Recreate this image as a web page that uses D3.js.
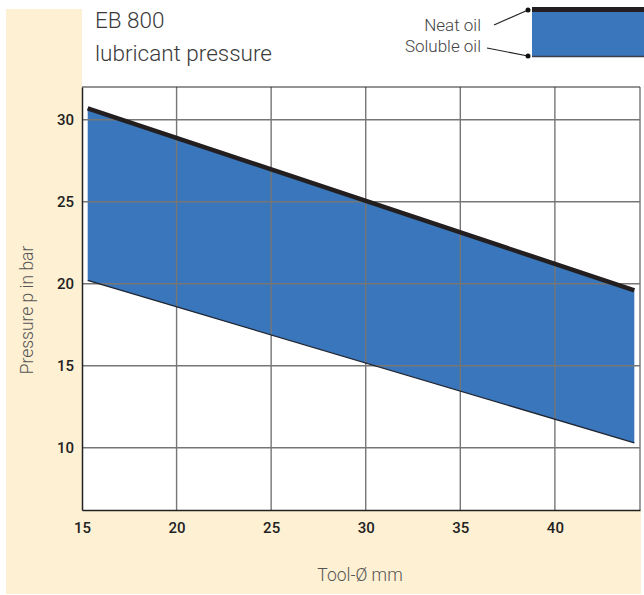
<!DOCTYPE html>
<html>
<head>
<meta charset="utf-8">
<script src="https://cdn.jsdelivr.net/npm/d3@7"></script>
<style>
  html, body { margin: 0; padding: 0; background: #fff; }
  svg { display: block; }
</style>
</head>
<body>
<svg id="chart" width="644" height="595"></svg>
<script>
// ---- data ----
const toolDiameter = [15.3, 44.2];          // Tool-Ø mm
const neatOil = [30.7, 19.6];               // bar (upper bound)
const solubleOil = [20.2, 10.3];            // bar (lower bound)
const xTicks = [15, 20, 25, 30, 35, 40];
const yTicks = [10, 15, 20, 25, 30];
const titleLines = ["EB 800", "lubricant pressure"];
const legendLabels = ["Neat oil", "Soluble oil"];

const svg = d3.select("#chart");
const plot = { left: 82, right: 640, top: 87, bottom: 510 };

const x = d3.scaleLinear().domain([15, 44.5]).range([plot.left, plot.right]);
const y = d3.scaleLinear().domain([6.2, 32]).range([plot.bottom, plot.top]);

const beige = "#fef0d3";
const font = "Roboto, 'Liberation Sans', sans-serif";
// beige L-shaped panel
svg.append("rect").attr("x", 6).attr("y", 9).attr("width", plot.left - 6).attr("height", 585).attr("fill", beige);
svg.append("rect").attr("x", 6).attr("y", plot.bottom).attr("width", 641 - 6).attr("height", 594 - plot.bottom).attr("fill", beige);

// plot background
svg.append("rect").attr("x", plot.left).attr("y", plot.top)
  .attr("width", plot.right - plot.left).attr("height", plot.bottom - plot.top).attr("fill", "#fff");

const data = toolDiameter.map((d, i) => ({ x: d, hi: neatOil[i], lo: solubleOil[i] }));

// band
svg.append("path").datum(data)
  .attr("d", d3.area().x(d => x(d.x)).y0(d => y(d.lo)).y1(d => y(d.hi)))
  .attr("fill", "#3a76bb");

// grid
const grid = svg.append("g");
grid.selectAll("line.v").data(xTicks.slice(1).concat([44.5])).join("line")
  .attr("x1", d => x(d)).attr("x2", d => x(d))
  .attr("y1", plot.top).attr("y2", plot.bottom)
  .attr("stroke", "#767676").attr("stroke-width", 1.4);
grid.selectAll("line.h").data(yTicks).join("line")
  .attr("x1", plot.left).attr("x2", plot.right)
  .attr("y1", d => y(d)).attr("y2", d => y(d))
  .attr("stroke", "#767676").attr("stroke-width", 1.4);

// lower line (soluble oil)
svg.append("path").datum(data)
  .attr("d", d3.line().x(d => x(d.x)).y(d => y(d.lo)))
  .attr("fill", "none").attr("stroke", "#1e2430").attr("stroke-width", 1.3);
// upper line (neat oil)
svg.append("path").datum(data)
  .attr("d", d3.line().x(d => x(d.x)).y(d => y(d.hi)))
  .attr("fill", "none").attr("stroke", "#231f20").attr("stroke-width", 4.5);

// frame
svg.append("line").attr("x1", plot.left).attr("x2", plot.right).attr("y1", plot.top).attr("y2", plot.top)
  .attr("stroke", "#2a2a2a").attr("stroke-width", 1.2);

// axes
const xAxis = svg.append("g").attr("transform", `translate(0,${plot.bottom})`)
  .call(d3.axisBottom(x).tickValues(xTicks).tickSize(0).tickPadding(12).tickFormat(d3.format("d")));
xAxis.select(".domain").attr("stroke", "#222").attr("stroke-width", 1.5);
xAxis.selectAll("text").attr("font-family", font)
  .attr("font-size", 15).attr("font-weight", 500).attr("fill", "#222");

const yAxis = svg.append("g").attr("transform", `translate(${plot.left},0)`)
  .call(d3.axisLeft(y).tickValues(yTicks).tickSize(0).tickPadding(8).tickFormat(d3.format("d")));
yAxis.select(".domain").attr("stroke", "#222").attr("stroke-width", 1.5);
yAxis.selectAll("text").attr("font-family", font)
  .attr("font-size", 15).attr("font-weight", 500).attr("fill", "#222");

// axis titles
svg.append("text").attr("x", 360).attr("y", 581).attr("text-anchor", "middle")
  .attr("font-family", font).attr("font-weight", 300)
  .attr("font-size", 17.5).attr("fill", "#555").text("Tool-Ø mm");
svg.append("text").attr("transform", "translate(33,310) rotate(-90)").attr("text-anchor", "middle")
  .attr("font-family", font).attr("font-weight", 300)
  .attr("font-size", 17.5).attr("fill", "#555").text("Pressure p in bar");

// title
svg.selectAll("text.title").data(titleLines).join("text").attr("class", "title")
  .attr("x", 95).attr("y", (d, i) => 28 + i * 33)
  .attr("font-family", font).attr("font-weight", 300)
  .attr("font-size", 22.5).attr("fill", "#3a3a3a").text(d => d);

// legend
const lg = svg.append("g");
lg.append("rect").attr("x", 532).attr("y", 12).attr("width", 112).attr("height", 44).attr("fill", "#3a76bb");
lg.append("line").attr("x1", 532).attr("x2", 644).attr("y1", 9.5).attr("y2", 9.5).attr("stroke", "#231f20").attr("stroke-width", 5);
lg.append("line").attr("x1", 532).attr("x2", 644).attr("y1", 56.5).attr("y2", 56.5).attr("stroke", "#3b3f4a").attr("stroke-width", 1.5);
lg.append("line").attr("x1", 528).attr("y1", 10).attr("x2", 494).attr("y2", 25).attr("stroke", "#222").attr("stroke-width", 1.2);
lg.append("line").attr("x1", 528).attr("y1", 56).attr("x2", 487).attr("y2", 48).attr("stroke", "#222").attr("stroke-width", 1.2);
lg.append("circle").attr("cx", 528).attr("cy", 10).attr("r", 2.5).attr("fill", "#111");
lg.append("circle").attr("cx", 528).attr("cy", 56).attr("r", 2.5).attr("fill", "#111");
lg.selectAll("text.leg").data(legendLabels).join("text").attr("class", "leg")
  .attr("x", 481).attr("y", (d, i) => 31 + i * 21).attr("text-anchor", "end")
  .attr("font-family", font).attr("font-weight", 300)
  .attr("font-size", 17).attr("fill", "#444").text(d => d);
</script>
</body>
</html>
